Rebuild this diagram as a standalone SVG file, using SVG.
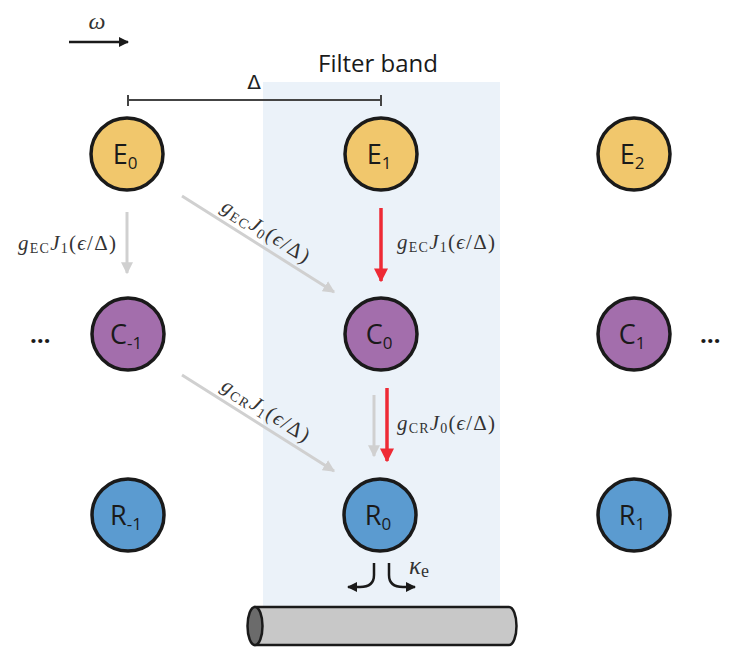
<svg xmlns="http://www.w3.org/2000/svg" width="748" height="665" viewBox="0 0 748 665">
<defs>
<style>
.node{stroke:#1a1a1a;stroke-width:3.5}
.E{fill:#F1C76C}.C{fill:#A36EAC}.R{fill:#5B9BD0}
.nl{font-family:"Open Sans","Liberation Sans",sans-serif;font-size:27px;fill:#1a1a1a;text-anchor:middle}
.sub{font-size:17px}
.math{font-family:"Liberation Serif","DejaVu Serif",serif;font-size:21px;fill:#333}
.it{font-style:italic}
.ms{font-size:14px}
.g{stroke:#d0d0d0;stroke-width:3;fill:none}
.r{stroke:#EE2A35;stroke-width:3.5;fill:none}
.k{stroke:#1a1a1a;stroke-width:2.5;fill:none}
.dots{font-family:"Open Sans","Liberation Sans",sans-serif;font-size:24px;font-weight:bold;fill:#1a1a1a}
</style>
<marker id="ag" viewBox="0 0 10 10" refX="9" refY="5" markerWidth="4" markerHeight="4" orient="auto" markerUnits="strokeWidth"><path d="M0,0L10,5L0,10z" fill="#d0d0d0"/></marker>
<marker id="ar" viewBox="0 0 10 10" refX="9" refY="5" markerWidth="4" markerHeight="4" orient="auto" markerUnits="strokeWidth"><path d="M0,0L10,5L0,10z" fill="#EE2A35"/></marker>
<marker id="ak" viewBox="0 0 10 10" refX="9" refY="5" markerWidth="4" markerHeight="4" orient="auto" markerUnits="strokeWidth"><path d="M0,0L10,5L0,10z" fill="#1a1a1a"/></marker>
</defs>
<rect width="748" height="665" fill="#fff"/>
<rect id="band" x="263" y="82" width="237" height="526" fill="#EBF2F9"/>
<text x="378" y="72" font-family="Open Sans,Liberation Sans,sans-serif" font-size="24" fill="#1a1a1a" text-anchor="middle">Filter band</text>
<g id="omega">
<line x1="69" y1="42" x2="128" y2="42" class="k" marker-end="url(#ak)"/>
<text x="97" y="29" class="math it" style="font-size:24px" text-anchor="middle">ω</text>
</g>
<g id="delta">
<path d="M128,100H381M128,95V106M381,95V106" stroke="#444" stroke-width="2" fill="none"/>
<text x="254" y="89" font-family="DejaVu Sans,sans-serif" font-size="20" fill="#222" text-anchor="middle">Δ</text>
</g>
<g id="connectors">
<line x1="127" y1="212" x2="127" y2="273" class="g" marker-end="url(#ag)"/>
<line x1="182" y1="196" x2="334" y2="292" class="g" marker-end="url(#ag)"/>
<line x1="182" y1="375" x2="334" y2="471" class="g" marker-end="url(#ag)"/>
<line x1="374" y1="395" x2="374" y2="456" class="g" marker-end="url(#ag)"/>
<line x1="381" y1="208" x2="381" y2="281" class="r" marker-end="url(#ar)"/>
<line x1="387" y1="388" x2="387" y2="461" class="r" marker-end="url(#ar)"/>
<path d="M374,563V575Q374,587 360,587H348" class="k" marker-end="url(#ak)"/>
<path d="M389,563V575Q389,587 403,587H415" class="k" marker-end="url(#ak)"/>
</g>
<g id="labels">
<text x="18" y="250" class="math" textLength="98" lengthAdjust="spacing"><tspan class="it">g</tspan><tspan class="ms" dy="3">EC</tspan><tspan class="it" dy="-3">J</tspan><tspan class="ms" dy="3">1</tspan><tspan dy="-3">(</tspan><tspan class="it">ϵ</tspan><tspan>/Δ)</tspan></text>
<text x="397" y="249" class="math" textLength="98" lengthAdjust="spacing"><tspan class="it">g</tspan><tspan class="ms" dy="3">EC</tspan><tspan class="it" dy="-3">J</tspan><tspan class="ms" dy="3">1</tspan><tspan dy="-3">(</tspan><tspan class="it">ϵ</tspan><tspan>/Δ)</tspan></text>
<text x="397" y="430" class="math" textLength="98" lengthAdjust="spacing"><tspan class="it">g</tspan><tspan class="ms" dy="3">CR</tspan><tspan class="it" dy="-3">J</tspan><tspan class="ms" dy="3">0</tspan><tspan dy="-3">(</tspan><tspan class="it">ϵ</tspan><tspan>/Δ)</tspan></text>
<text class="math" transform="translate(220,210) rotate(32.5)" textLength="100" lengthAdjust="spacing"><tspan class="it">g</tspan><tspan class="ms" dy="3">EC</tspan><tspan class="it" dy="-3">J</tspan><tspan class="ms" dy="3">0</tspan><tspan dy="-3">(</tspan><tspan class="it">ϵ</tspan><tspan>/Δ)</tspan></text>
<text class="math" transform="translate(220,389) rotate(32.5)" textLength="100" lengthAdjust="spacing"><tspan class="it">g</tspan><tspan class="ms" dy="3">CR</tspan><tspan class="it" dy="-3">J</tspan><tspan class="ms" dy="3">1</tspan><tspan dy="-3">(</tspan><tspan class="it">ϵ</tspan><tspan>/Δ)</tspan></text>
<text x="409" y="574" class="math" style="font-size:25px"><tspan class="it">κ</tspan><tspan style="font-size:18px" dy="3">e</tspan></text>
</g>
<text x="30" y="343" class="dots">…</text>
<text x="700" y="343" class="dots">…</text>
<g id="E0"><circle cx="127" cy="154" r="36" class="node E"/><text x="125" y="164" class="nl">E<tspan class="sub" dy="5">0</tspan></text></g>
<g id="E1"><circle cx="381" cy="154" r="36" class="node E"/><text x="379" y="164" class="nl">E<tspan class="sub" dy="5">1</tspan></text></g>
<g id="E2"><circle cx="634" cy="154" r="36" class="node E"/><text x="632" y="164" class="nl">E<tspan class="sub" dy="5">2</tspan></text></g>
<g id="Cm1"><circle cx="128" cy="334" r="36" class="node C"/><text x="126" y="344" class="nl">C<tspan class="sub" dy="5">-1</tspan></text></g>
<g id="C0"><circle cx="381" cy="334" r="36" class="node C"/><text x="379" y="344" class="nl">C<tspan class="sub" dy="5">0</tspan></text></g>
<g id="C1"><circle cx="634" cy="334" r="36" class="node C"/><text x="632" y="344" class="nl">C<tspan class="sub" dy="5">1</tspan></text></g>
<g id="Rm1"><circle cx="128" cy="515" r="36" class="node R"/><text x="126" y="525" class="nl">R<tspan class="sub" dy="5">-1</tspan></text></g>
<g id="R0"><circle cx="380" cy="515" r="36" class="node R"/><text x="378" y="525" class="nl">R<tspan class="sub" dy="5">0</tspan></text></g>
<g id="R1"><circle cx="634" cy="515" r="36" class="node R"/><text x="632" y="525" class="nl">R<tspan class="sub" dy="5">1</tspan></text></g>
<g id="waveguide">
<path d="M255,607H509A7.5,19 0 0 1 509,645H255Z" fill="#C8C8C8" stroke="#1a1a1a" stroke-width="2.5"/>
<ellipse cx="255" cy="626" rx="7.5" ry="19" fill="#6B6B6B" stroke="#1a1a1a" stroke-width="2.5"/>
</g>
</svg>
